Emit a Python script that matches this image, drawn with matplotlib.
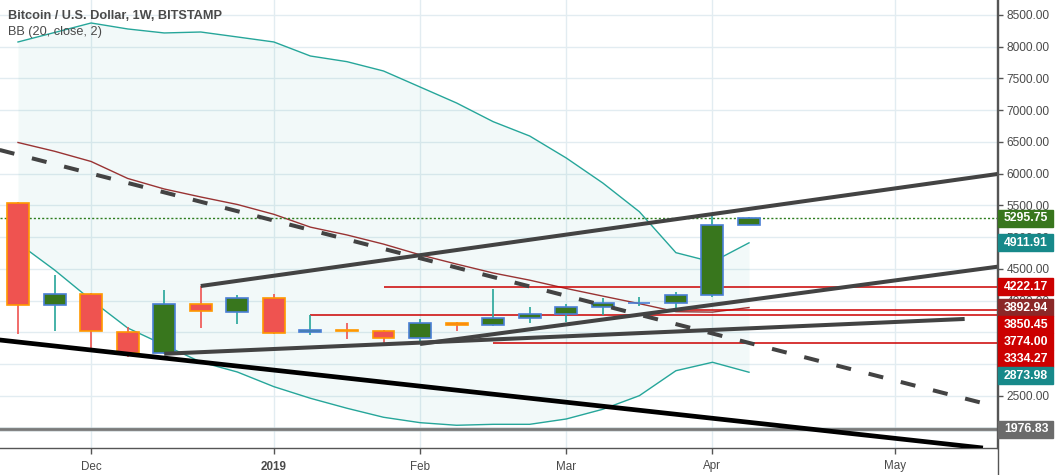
import matplotlib
matplotlib.use('Agg')
from matplotlib import pyplot as plt
from matplotlib.patches import Rectangle
from matplotlib.lines import Line2D

# weekly BTC/USD candles (BITSTAMP), week of 2018-11-19 .. 2019-04-08
weeks = list(range(21))
opens = [5544, 3928, 4102, 3513, 3182, 3944, 3818, 4039, 3503, 3535, 3519,
         3413, 3645, 3613, 3724, 3787, 3897, 3960, 3960, 4086, 5188]
highs = [5550, 4401, 4118, 3591, 4169, 4232, 4091, 4106, 3774, 3654, 3539,
         3713, 3670, 4180, 3902, 3949, 4043, 4059, 4138, 5350, 5324]
lows = [3476, 3528, 3213, 3119, 3165, 3576, 3634, 3476, 3465, 3398, 3330,
        3319, 3528, 3605, 3654, 3670, 3776, 3917, 3854, 4064, 5188]
closes = [3928, 4102, 3519, 3182, 3944, 3834, 4039, 3497, 3535, 3530, 3409,
          3645, 3613, 3724, 3787, 3897, 3960, 3965, 4086, 5188, 5295.75]

# Bollinger bands (20, close, 2)
bb_upper = [8075, 8224, 8374, 8280, 8217, 8232, 8154, 8075, 7854, 7765, 7618,
            7366, 7114, 6820, 6594, 6248, 5854, 5402, 4757, 4610, 4911.91]
bb_basis = [6492, 6354, 6193, 5926, 5760, 5634, 5516, 5361, 5159, 5036, 4892,
            4723, 4577, 4437, 4324, 4193, 4073, 3954, 3828, 3821, 3892.94]
bb_lower = [4909, 4484, 4012, 3571, 3303, 3035, 2878, 2647, 2464, 2307, 2165,
            2080, 2039, 2054, 2054, 2138, 2291, 2505, 2898, 3031, 2873.98]

# drawings: (bar index, price) anchor pairs
trend_upper = [(5, 4232), (26.8, 5996)]
trend_mid = [(11, 3319), (26.8, 4536)]
trend_flat = [(4, 3165), (25.9, 3713)]
trend_black = [(-0.5, 3382), (26.4, 1681)]
trend_dashed = [(-0.5, 6374), (26.7, 2343)]
# horizontal levels: (start bar, price)
red_levels = [(10, 4222.17), (18, 3850.45), (8, 3774.00), (13, 3334.27)]
support_level = 1976.83
last_close = 5295.75

month_ticks = [2, 7, 11, 15, 19, 24]
month_labels = ['Dec', '2019', 'Feb', 'Mar', 'Apr', 'May']
price_ticks = [2000, 2500, 3000, 3500, 4000, 4500, 5000, 5500, 6000, 6500,
               7000, 7500, 8000, 8500]
# scale values hidden behind the price labels
hidden_ticks = [2000, 3000, 3500]

W, H = 1059, 475
GREEN = '#38761d'
RED = '#ef5350'
TEAL = '#26a69a'
BASIS = '#993333'
AXIS = '#555555'
TEXT = '#4a4a4a'
GRID = '#e2ecf1'

plt.rcParams['font.family'] = ['Liberation Sans', 'DejaVu Sans']

fig = plt.figure(figsize=(W / 100, H / 100), dpi=100)
ax = fig.add_axes([0, 27 / H, 997 / W, 448 / H])
ax.set_xlim(-0.4925, 26.785)
ax.set_ylim(1681, 8736)

# grid + scales
ax.set_yticks(price_ticks)
ax.set_yticklabels(['' if p in hidden_ticks else '%.2f' % p for p in price_ticks])
ax.set_xticks(month_ticks)
ax.set_xticklabels(month_labels)
ax.grid(True, color=GRID, lw=1)
ax.set_axisbelow(True)
ax.yaxis.tick_right()
ax.tick_params(axis='y', length=4, width=1, color=AXIS, pad=3, labelsize=8.6, labelcolor=TEXT)
ax.tick_params(axis='x', length=4, width=1, color=AXIS, pad=5, labelsize=8.4, labelcolor=TEXT)
for lbl in ax.get_xticklabels():
    if lbl.get_text() == '2019':
        lbl.set_fontweight('bold')
for side in ['top', 'left']:
    ax.spines[side].set_visible(False)
for side in ['bottom', 'right']:
    ax.spines[side].set_color(AXIS)
    ax.spines[side].set_linewidth(1)

# bollinger bands
ax.fill_between(weeks, bb_lower, bb_upper, color=TEAL, alpha=0.06, lw=0, zorder=1)
ax.plot(weeks, bb_upper, color=TEAL, lw=1, zorder=2)
ax.plot(weeks, bb_lower, color=TEAL, lw=1, zorder=2)
ax.plot(weeks, bb_basis, color=BASIS, lw=1, zorder=2)

# levels
ax.axhline(support_level, color='#7a7a7a', lw=2, zorder=2)
ax.axhline(support_level, color='#b8c4c8', lw=3.5, alpha=0.5, zorder=1.9)
ax.axhline(last_close, color='#2e7d1f', lw=1, ls=(0, (1.5, 1.5)), zorder=3)
for start, price in red_levels:
    ax.hlines(price, start, 26.785, color='#cc0000', lw=1.1, zorder=3)

# candles
for i in weeks:
    up = closes[i] >= opens[i]
    wick = TEAL if up else RED
    ax.vlines(i, lows[i], highs[i], color=wick, lw=1.2, zorder=4)
    bottom = min(opens[i], closes[i])
    height = abs(closes[i] - opens[i])
    ax.bar(i, height, 0.6, bottom=bottom, color=GREEN if up else RED,
           edgecolor='#4a7fd6' if up else '#ff9800', lw=1.2, zorder=5)

# trend lines
def draw_line(pts, **kw):
    ax.plot([p[0] for p in pts], [p[1] for p in pts], solid_capstyle='butt', **kw)

draw_line(trend_upper, color='#434343', lw=2.9, zorder=6)
draw_line(trend_mid, color='#434343', lw=2.9, zorder=6)
draw_line(trend_flat, color='#434343', lw=2.9, zorder=6)
draw_line(trend_black, color='black', lw=3.4, zorder=6)
draw_line(trend_dashed, color='#434343', lw=2.9, ls=(0, (3.75, 4.5)), zorder=6)

# title
fig.text(8 / W, 1 - 16 / H, 'Bitcoin / U.S. Dollar, 1W, BITSTAMP', fontsize=9.2,
         fontweight='bold', color=TEXT, va='center', ha='left')
fig.text(8 / W, 1 - 32 / H, 'BB (20, close, 2)', fontsize=9.2, color=TEXT,
         va='center', ha='left')

# right axis line down to the bottom edge
fig.add_artist(Line2D([997.5 / W, 997.5 / W], [0, 1], color=AXIS, lw=1))

# price labels on the right scale
fig.canvas.draw()
labels = [(last_close, '5295.75', GREEN),
          (bb_upper[-1], '4911.91', '#17898a'),
          (4222.17, '4222.17', '#cc0000'),
          (bb_basis[-1], '3892.94', '#8b2828'),
          (3850.45, '3850.45', '#cc0000'),
          (3774.00, '3774.00', '#cc0000'),
          (3334.27, '3334.27', '#cc0000'),
          (bb_lower[-1], '2873.98', '#17898a'),
          (support_level, '1976.83', '#6b6b6b')]
box_h = 17
prev = -100
for price, txt, col in labels:
    y = H - ax.transData.transform((0, price))[1]
    y = max(y, prev + box_h)
    prev = y
    fig.add_artist(Rectangle((998 / W, (H - y - box_h / 2) / H), 55 / W, box_h / H,
                             transform=fig.transFigure, color=col, zorder=10))
    fig.text(1004 / W, (H - y) / H, txt, color='white', fontsize=8.8,
             fontweight='bold', va='center', ha='left', zorder=11)

plt.savefig('out.png', dpi=100, facecolor='white')
